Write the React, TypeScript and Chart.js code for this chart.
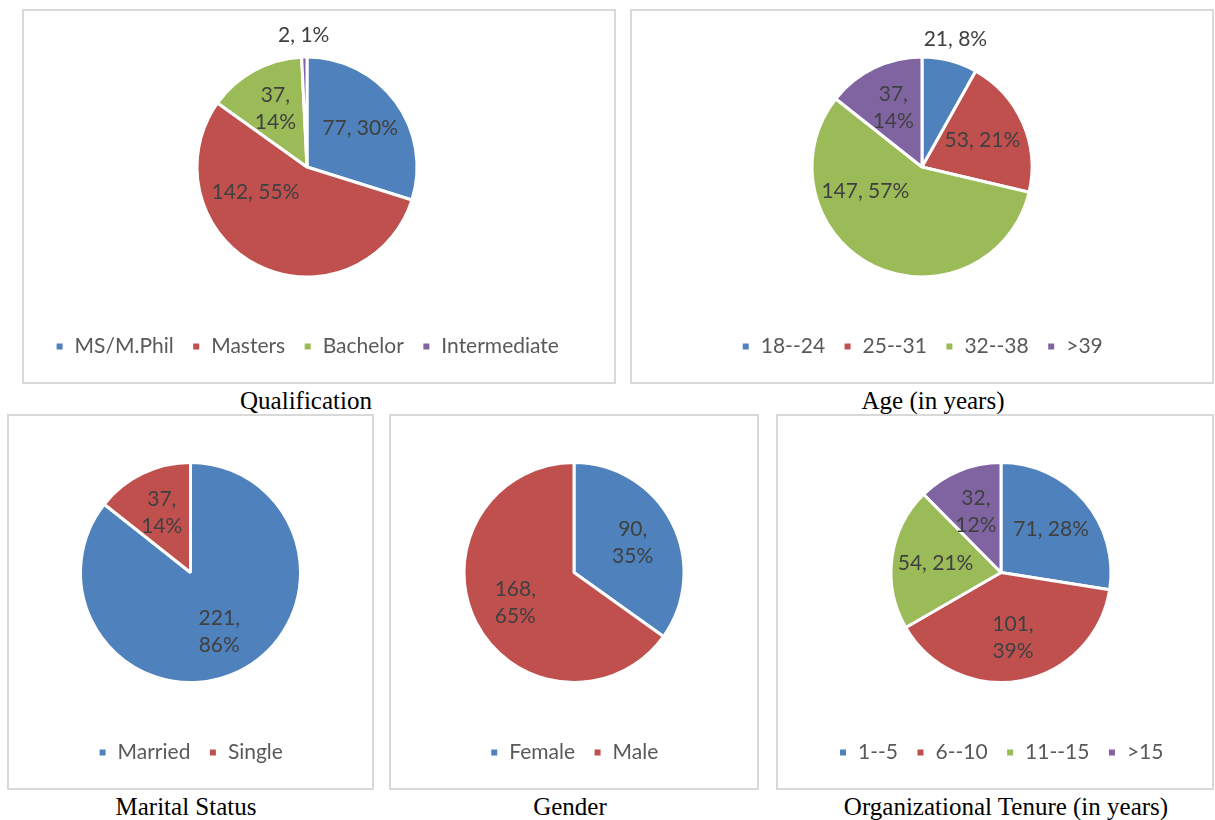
import React, { useEffect, useRef } from "react";
import { Chart, registerables } from "chart.js";

Chart.register(...registerables);

const COLORS = ["#4F81BD", "#C0504D", "#9BBB59", "#8064A2"];

const qualCategories = ["MS/M.Phil", "Masters", "Bachelor", "Intermediate"];
const qualValues = [77, 142, 37, 2];

const ageCategories = ["18--24", "25--31", "32--38", ">39"];
const ageValues = [21, 53, 147, 37];

const maritalCategories = ["Married", "Single"];
const maritalValues = [221, 37];

const genderCategories = ["Female", "Male"];
const genderValues = [90, 168];

const tenureCategories = ["1--5", "6--10", "11--15", ">15"];
const tenureValues = [71, 101, 54, 32];

const pieLabelPlugin = {
  id: "pieLabels",
  afterDatasetsDraw(chart: any, _args: any, opts: any) {
    const ctx = chart.ctx;
    const meta = chart.getDatasetMeta(0);
    const values = chart.data.datasets[0].data as number[];
    const total = values.reduce((a, b) => a + b, 0);
    ctx.save();
    ctx.font = "21px Lato";
    ctx.fillStyle = "#404040";
    ctx.textAlign = "center";
    ctx.textBaseline = "middle";
    meta.data.forEach((arc: any, i: number) => {
      const p = arc.getProps(["x", "y", "startAngle", "endAngle", "outerRadius"], true);
      const share = values[i] / total;
      const pos = opts.positions && opts.positions[i];
      const along = pos ? pos[0] : 0.5;
      const rad = pos ? pos[1] : share < 0.1 ? 1.2 : 0.6;
      const a = p.startAngle + (p.endAngle - p.startAngle) * along;
      const cx = p.x + Math.cos(a) * p.outerRadius * rad;
      const cy = p.y + Math.sin(a) * p.outerRadius * rad;
      const pct = Math.round(share * 100);
      const lines =
        opts.wrap && opts.wrap.includes(i)
          ? [`${values[i]},`, `${pct}%`]
          : [`${values[i]}, ${pct}%`];
      const lh = 27;
      lines.forEach((ln: string, k: number) =>
        ctx.fillText(ln, cx, cy + (k - (lines.length - 1) / 2) * lh)
      );
    });
    ctx.restore();
  },
};

type PieSpec = {
  categories: string[];
  values: number[];
  wrap?: number[];
  positions?: Record<number, [number, number]>;
  padLeft?: number;
  padRight?: number;
};

function PieChart({ spec, width, height }: { spec: PieSpec; width: number; height: number }) {
  const ref = useRef<HTMLCanvasElement | null>(null);
  useEffect(() => {
    if (!ref.current) return;
    const chart = new Chart(ref.current, {
      type: "pie",
      data: {
        labels: spec.categories,
        datasets: [
          {
            data: spec.values,
            backgroundColor: COLORS.slice(0, spec.values.length),
            borderColor: "#ffffff",
            borderWidth: 3,
            radius: 110,
          } as any,
        ],
      },
      options: {
        responsive: false,
        animation: false,
        events: [],
        layout: {
          padding: { top: 5, bottom: 15, left: spec.padLeft || 0, right: spec.padRight || 0 },
        },
        plugins: {
          tooltip: { enabled: false },
          legend: {
            position: "bottom",
            labels: {
              boxWidth: 9,
              boxHeight: 9,
              padding: 18,
              color: "#595959",
              font: { family: "Lato", size: 21 },
            },
          },
          pieLabels: { wrap: spec.wrap || [], positions: spec.positions || {} },
        } as any,
      },
      plugins: [pieLabelPlugin as any],
    });
    let alive = true;
    if ((document as any).fonts && (document as any).fonts.ready) {
      (document as any).fonts.ready.then(() => {
        if (alive) chart.update();
      });
    }
    return () => {
      alive = false;
      chart.destroy();
    };
  }, [spec]);
  return <canvas ref={ref} width={width} height={height} style={{ display: "block" }} />;
}

const panels: { spec: PieSpec; left: number; top: number; w: number; h: number; title: string; titleX: number }[] = [
  {
    spec: {
      categories: qualCategories,
      values: qualValues,
      wrap: [2],
      positions: { 1: [0.69, 0.52] },
      padRight: 24,
    },
    left: 22,
    top: 9,
    w: 594,
    h: 375,
    title: "Qualification",
    titleX: 306,
  },
  {
    spec: {
      categories: ageCategories,
      values: ageValues,
      wrap: [3],
      positions: { 2: [0.7, 0.56] },
    },
    left: 630,
    top: 9,
    w: 584,
    h: 375,
    title: "Age (in years)",
    titleX: 933,
  },
  {
    spec: { categories: maritalCategories, values: maritalValues, wrap: [0, 1] },
    left: 7,
    top: 414,
    w: 367,
    h: 376,
    title: "Marital Status",
    titleX: 186,
  },
  {
    spec: { categories: genderCategories, values: genderValues, wrap: [0, 1] },
    left: 389,
    top: 414,
    w: 370,
    h: 376,
    title: "Gender",
    titleX: 570,
  },
  {
    spec: { categories: tenureCategories, values: tenureValues, wrap: [1, 3], padLeft: 12 },
    left: 776,
    top: 414,
    w: 438,
    h: 376,
    title: "Organizational Tenure (in years)",
    titleX: 1006,
  },
];

export default function App() {
  return (
    <div style={{ position: "absolute", left: 0, top: 0, width: 1215, height: 820, background: "#fff" }}>
      {panels.map((p, i) => (
        <React.Fragment key={i}>
          <div
            style={{
              position: "absolute",
              left: p.left,
              top: p.top,
              width: p.w,
              height: p.h,
              boxSizing: "border-box",
              border: "2px solid #D9D9D9",
              background: "#fff",
            }}
          >
            <PieChart spec={p.spec} width={p.w - 4} height={p.h - 4} />
          </div>
          <div
            style={{
              position: "absolute",
              left: p.titleX - 250,
              width: 500,
              top: p.top + p.h + 3,
              textAlign: "center",
              fontFamily: "'Liberation Serif', 'Times New Roman', serif",
              fontSize: 25,
              lineHeight: "28px",
              color: "#000",
            }}
          >
            {p.title}
          </div>
        </React.Fragment>
      ))}
    </div>
  );
}
